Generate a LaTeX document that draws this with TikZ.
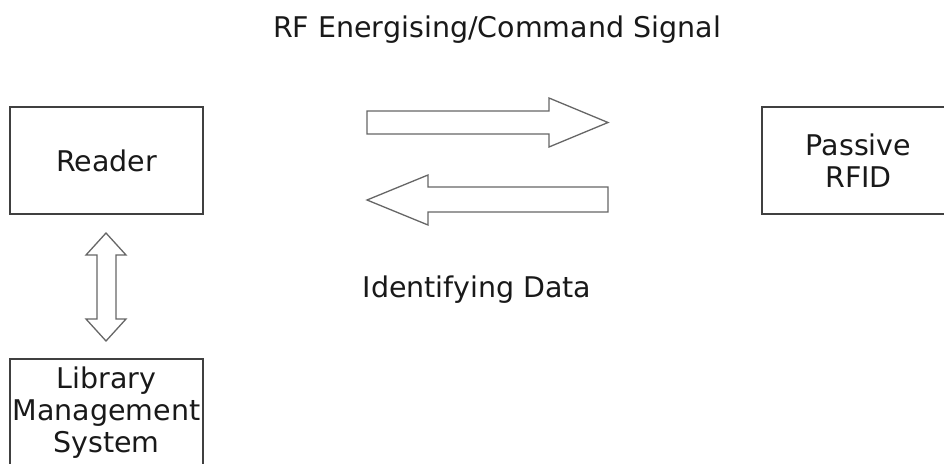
\documentclass[tikz,border=0pt]{standalone}
\usepackage{fontspec}
\setmainfont{DejaVu Sans}
\begin{document}
\begin{tikzpicture}[x=1pt,y=-1pt,
  lbl/.style={font=\fontsize{28.5}{32}\selectfont, text=black!90, inner sep=0pt},
  boxnode/.style={draw=black!75, line width=1.3pt, minimum width=193pt, align=center, lbl},
  blockarrow/.style={draw=black!60, line width=1.3pt, fill=white, line join=miter}
]
\useasboundingbox (0,0) rectangle (944,463);
\node[boxnode, minimum height=107pt] (reader) at (106.5,160.5) {Reader};
\node[boxnode, minimum height=107pt] (rfid) at (858.5,160.5) {Passive\\RFID};
\node[boxnode, minimum height=108pt] (lms) at (106.5,413) {Library\\Management\\System};
\node[lbl, anchor=base] (title) at (497,37) {RF Energising/Command Signal};
\node[lbl, anchor=base] (ident) at (477,297) {Identifying Data};
% right arrow (command)
\draw[blockarrow] (367,111) -- (549,111) -- (549,98) -- (608,122.5) -- (549,147) -- (549,134) -- (367,134) -- cycle;
% left arrow (data)
\draw[blockarrow] (608,187) -- (428,187) -- (428,175) -- (367,200) -- (428,225) -- (428,212) -- (608,212) -- cycle;
% double arrow reader <-> lms
\draw[blockarrow] (106,233) -- (126,255) -- (116,255) -- (116,319) -- (126,319) -- (106,341) -- (86,319) -- (97,319) -- (97,255) -- (86,255) -- cycle;
\end{tikzpicture}
\end{document}
